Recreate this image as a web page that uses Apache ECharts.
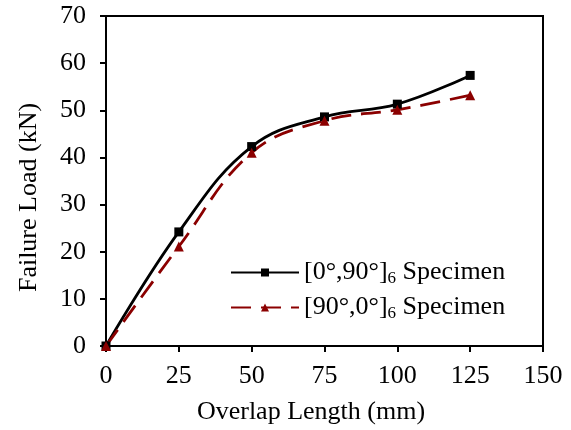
<!DOCTYPE html>
<html>
<head>
<meta charset="utf-8">
<script src="https://cdn.jsdelivr.net/npm/echarts@6/dist/echarts.min.js"></script>
<style>html,body{margin:0;padding:0;background:#fff;}#c{width:571px;height:430px;}</style>
</head>
<body>
<div id="c"></div>
<script>
var overlap = [0, 25, 50, 75, 100, 125];
var load_0_90 = [0, 24.2, 42.3, 48.6, 51.3, 57.4];
var load_90_0 = [0, 21.1, 41.0, 47.8, 50.1, 53.2];
var xTicks = [0, 25, 50, 75, 100, 125, 150];
var yTicks = [0, 10, 20, 30, 40, 50, 60, 70];

var FONT = '"Liberation Serif", "Times New Roman", serif';
var FS = 26;
function pairs(xs, ys) { return xs.map(function (x, i) { return [x, ys[i]]; }); }

var chart = echarts.init(document.getElementById('c'), null, { renderer: 'canvas' });
chart.setOption({
  animation: false,
  backgroundColor: '#fff',
  grid: { left: 106, right: 28, top: 16, bottom: 83, show: true, borderColor: '#000', borderWidth: 2, containLabel: false },
  legend: {
    left: 225, top: 253, orient: 'vertical', itemWidth: 68, itemHeight: 10, itemGap: 6,
    data: ['s1', 's2'],
    formatter: function (n) {
      return n === 's1' ? '[0°,90°]{sub|6} Specimen' : '[90°,0°]{sub|6} Specimen';
    },
    textStyle: {
      fontFamily: FONT, fontSize: FS, lineHeight: 26, color: '#000',
      rich: { sub: { fontFamily: FONT, fontSize: 17, lineHeight: 26, color: '#000', padding: [12, 0, 0, 0] } }
    }
  },
  xAxis: {
    type: 'value', min: 0, max: 150, interval: 25,
    name: 'Overlap Length (mm)', nameLocation: 'middle', nameGap: 53,
    nameTextStyle: { fontFamily: FONT, fontSize: FS, color: '#000', padding: [0, 27, 0, 0] },
    axisLine: { lineStyle: { color: '#000', width: 2 } },
    axisTick: { show: true, inside: false, length: 6, lineStyle: { color: '#000', width: 2 } },
    axisLabel: { fontFamily: FONT, fontSize: FS, color: '#000', margin: 17,
      formatter: function (v) { return xTicks.indexOf(v) >= 0 ? String(v) : ''; } },
    splitLine: { show: false }
  },
  yAxis: {
    type: 'value', min: 0, max: 70, interval: 10,
    name: 'Failure Load (kN)', nameLocation: 'middle', nameGap: 64,
    nameTextStyle: { fontFamily: FONT, fontSize: FS, color: '#000', padding: [0, 33, 0, 0] },
    axisLine: { lineStyle: { color: '#000', width: 2 } },
    axisTick: { show: true, inside: false, length: 6, lineStyle: { color: '#000', width: 2 } },
    axisLabel: { fontFamily: FONT, fontSize: FS, color: '#000', margin: 20,
      formatter: function (v) { return yTicks.indexOf(v) >= 0 ? String(v) : ''; } },
    splitLine: { show: false }
  },
  series: [
    {
      name: 's1', type: 'line', data: pairs(overlap, load_0_90), smooth: 0.4,
      symbol: 'rect', symbolSize: 9, color: '#000',
      lineStyle: { color: '#000', width: 2.8 },
      itemStyle: { color: '#000' }
    },
    {
      name: 's2', type: 'line', data: pairs(overlap, load_90_0), smooth: 0.4,
      symbol: 'triangle', symbolSize: 10, color: '#8b0000',
      lineStyle: { color: '#8b0000', width: 2.8, type: [20, 10] },
      itemStyle: { color: '#8b0000' }
    }
  ]
});
</script>
</body>
</html>
